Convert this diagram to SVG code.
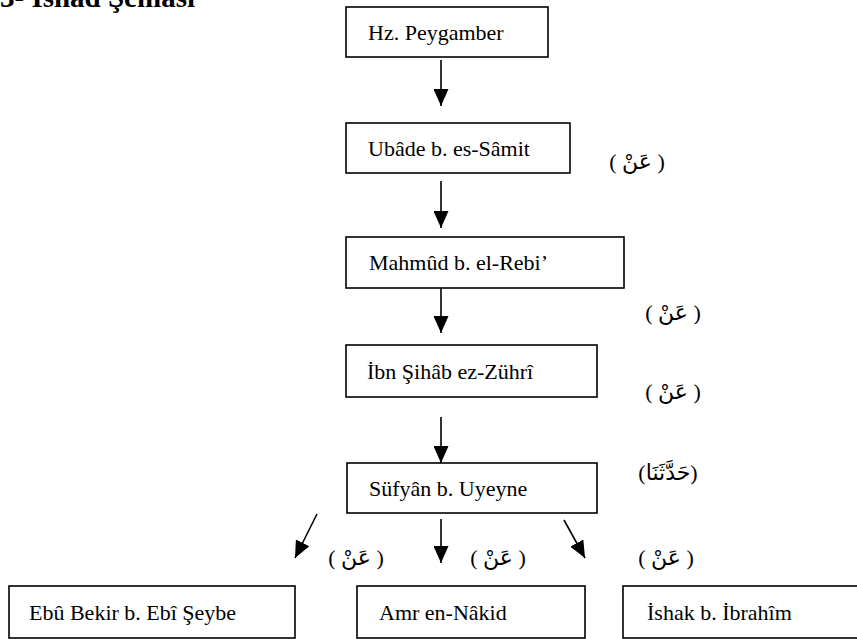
<svg xmlns="http://www.w3.org/2000/svg" width="857" height="639" viewBox="0 0 857 639">
<defs>
<style>
.box{fill:#fff;stroke:#000;stroke-width:1.6}
.t{font-family:'Liberation Serif','Times New Roman',Times,'DejaVu Serif',serif;font-size:22px;fill:#000}
.ar{font-family:'Liberation Serif','DejaVu Sans','Noto Sans',serif;font-size:22px;fill:#000}
.ttl{font-family:'Liberation Serif','Times New Roman',Times,'DejaVu Serif',serif;font-size:29px;font-weight:bold;fill:#000}
.c line{stroke:#000;stroke-width:1.6}
</style>
<marker id="ah" viewBox="0 0 17 15" refX="17" refY="7.5" markerWidth="17" markerHeight="15" markerUnits="userSpaceOnUse" orient="auto">
<path d="M0,0 L17,7.5 L0,15 z" fill="#000"/>
</marker>
</defs>
<rect width="857" height="639" fill="#fff"/>
<text class="ttl" x="0" y="7">3- İsnad Şeması</text>

<g id="connectors" class="c">
<line x1="441" y1="60" x2="441" y2="106" marker-end="url(#ah)"/>
<line x1="441" y1="181" x2="441" y2="228" marker-end="url(#ah)"/>
<line x1="441" y1="288" x2="441" y2="333" marker-end="url(#ah)"/>
<line x1="441" y1="417" x2="441" y2="463" marker-end="url(#ah)"/>
<line x1="317" y1="514" x2="295" y2="558" marker-end="url(#ah)"/>
<line x1="441" y1="519" x2="441" y2="563" marker-end="url(#ah)"/>
<line x1="564" y1="520" x2="585" y2="558" marker-end="url(#ah)"/>
</g>

<g id="n-peygamber"><rect class="box" x="346" y="7" width="202" height="50"/><text class="t" x="368" y="40">Hz. Peygamber</text></g>
<g id="n-ubade"><rect class="box" x="346" y="123" width="224" height="50"/><text class="t" x="368" y="156">Ubâde b. es-Sâmit</text></g>
<g id="n-mahmud"><rect class="box" x="346" y="237" width="278" height="51"/><text class="t" x="369" y="270">Mahmûd b. el-Rebi’</text></g>
<g id="n-zuhri"><rect class="box" x="346" y="345" width="251" height="52"/><text class="t" x="367" y="379">İbn Şihâb ez-Zührî</text></g>
<g id="n-sufyan"><rect class="box" x="347" y="463" width="250" height="50"/><text class="t" x="369" y="496">Süfyân b. Uyeyne</text></g>
<g id="n-ebubekir"><rect class="box" x="9" y="586" width="286" height="52"/><text class="t" x="29" y="620">Ebû Bekir b. Ebî Şeybe</text></g>
<g id="n-amr"><rect class="box" x="357" y="586" width="228" height="52"/><text class="t" x="379" y="620">Amr en-Nâkid</text></g>
<g id="n-ishak"><rect class="box" x="623" y="586" width="240" height="52"/><text class="t" x="647" y="620">İshak b. İbrahîm</text></g>

<g id="labels">
<text class="ar" x="637" y="169" text-anchor="middle">( عَنْ )</text>
<text class="ar" x="673" y="320" text-anchor="middle">( عَنْ )</text>
<text class="ar" x="673" y="399" text-anchor="middle">( عَنْ )</text>
<text class="ar" x="668" y="480" text-anchor="middle">(حَدَّثَنَا)</text>
<text class="ar" x="356" y="565" text-anchor="middle">( عَنْ )</text>
<text class="ar" x="498" y="565" text-anchor="middle">( عَنْ )</text>
<text class="ar" x="666" y="565" text-anchor="middle">( عَنْ )</text>
</g>
</svg>
